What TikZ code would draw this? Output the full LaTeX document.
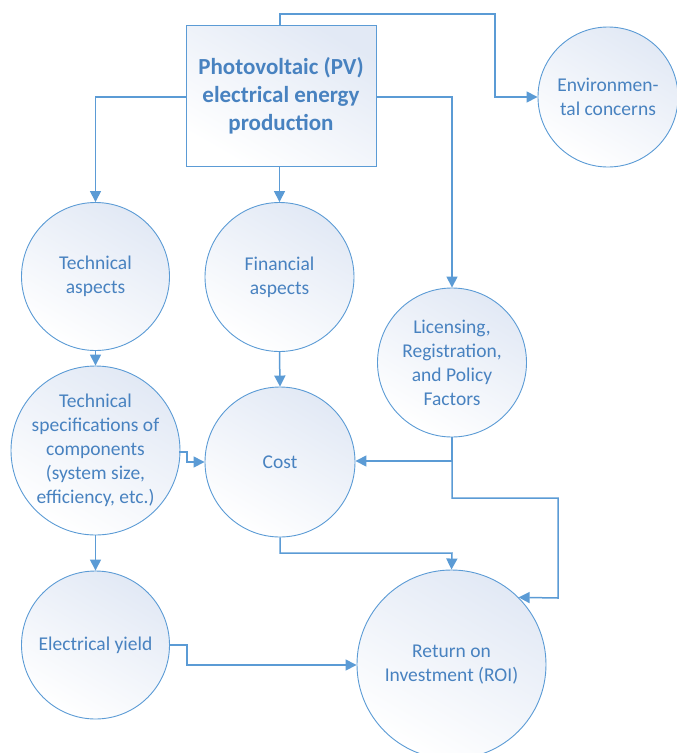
\documentclass[tikz,border=0pt]{standalone}
\usepackage{fontspec}
\setmainfont{Carlito}
\usetikzlibrary{arrows.meta}
\definecolor{lineblue}{RGB}{91,155,213}
\definecolor{textblue}{RGB}{72,130,192}
\definecolor{fillblue}{RGB}{226,233,245}
\tikzset{
  bubble/.style={circle, draw=lineblue, line width=0.9pt, shading=axis, top color=fillblue, bottom color=white, shading angle=-30,
    text=textblue, align=center, font=\fontsize{19.5}{24}\selectfont, inner sep=-60pt},
  topbox/.style={rectangle, draw=lineblue, line width=1pt, shading=axis, top color=fillblue, bottom color=white, shading angle=-30,
    text=textblue, align=center, font=\bfseries\fontsize{23}{28}\selectfont, inner sep=0pt},
  conn/.style={draw=lineblue, line width=1.5pt, -{Triangle[length=11pt,width=11pt]}}
}
\begin{document}
\begin{tikzpicture}[x=1pt,y=-1pt]
\useasboundingbox (0,0) rectangle (677,753);
\node[topbox, minimum width=190pt, minimum height=141pt] (pv) at (281,95.5) {Photovoltaic (PV)\\electrical energy\\production};
\node[bubble, minimum size=140pt] (env) at (608,97) {Environmen-\\tal concerns};
\node[bubble, minimum size=148pt] (tech) at (95.5,276.5) {Technical\\aspects};
\node[bubble, minimum size=149pt] (fin) at (279.5,277) {Financial\\aspects};
\node[bubble, minimum size=149pt] (lic) at (452,362.5) {Licensing,\\Registration,\\and Policy\\Factors};
\node[bubble, minimum size=169pt] (spec) at (95.5,450.5) {Technical\\specifications of\\components\\(system size,\\efficiency, etc.)};
\node[bubble, minimum size=150pt] (cost) at (280,462) {Cost};
\node[bubble, minimum size=148pt] (yield) at (95.5,645) {Electrical yield};
\node[bubble, minimum size=189pt] (roi) at (451.5,664.5) {Return on\\Investment (ROI)};

\coordinate (pvtop) at (280,25);
\coordinate (licsplit) at (452,461);
\draw[conn] (pvtop) -- (280,14) -- (495,14) -- (495,97) -- (env.west);
\draw[conn] (pv.west |- 0,97) -- (95.5,97) -- (tech.north);
\draw[conn] (pv.south -| fin.north) -- (fin.north);
\draw[conn] (pv.east |- 0,97) -- (452,97) -- (lic.north);
\draw[conn] (tech.south) -- (spec.north);
\draw[conn] (fin.south) -- (cost.north);
\draw[conn] (spec.east |- 0,452) ++(-1,0) -- (187,452) -- (187,462) -- (cost.west |- 0,462);
\draw[conn] (lic.south) -- (licsplit) -- (cost.east |- 0,461);
\draw[conn] (licsplit) -- (452,498) -- (558,498) -- (558,598) -- (roi.45.5);
\draw[conn] (cost.south) -- (280,553) -- (452,553) -- (roi.north);
\draw[conn] (spec.south) -- (yield.north);
\draw[conn] (yield.east |- 0,645) ++(-1,0) -- (187,645) -- (187,665) -- (roi.west |- 0,665);
\end{tikzpicture}
\end{document}
